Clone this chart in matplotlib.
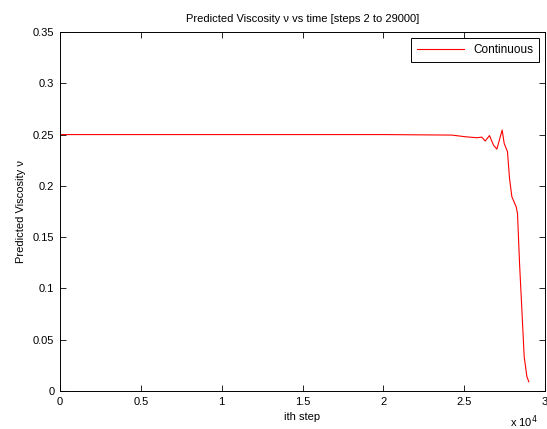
import numpy as np
import matplotlib.pyplot as plt
from matplotlib.ticker import FuncFormatter, MultipleLocator

plt.rcParams['font.family'] = ['Liberation Sans', 'DejaVu Sans']
plt.rcParams['font.size'] = 8

# predicted viscosity along the run (step index, value)
steps = [2, 5000, 10000, 15000, 20000, 24240, 25060, 25786, 26095, 26300,
         26567, 26815, 27020, 27350, 27475, 27680, 27805, 27950, 28217,
         28300, 28425, 28570, 28713, 28880, 29000]
nu = [0.25, 0.25, 0.25, 0.25, 0.25, 0.2495, 0.2479, 0.2469, 0.2475, 0.2437,
      0.249, 0.2397, 0.2358, 0.2544, 0.2414, 0.2332, 0.2073, 0.1894, 0.1796,
      0.173, 0.1245, 0.079, 0.0334, 0.014, 0.009]

fig = plt.figure(figsize=(5.47, 4.29), dpi=100)
ax = fig.add_axes([60/547, 38/429, 485/547, 359/429])

ax.plot(steps, nu, color='red', linewidth=0.8, label='Continuous')

ax.set_xlim(0, 30000)
ax.set_ylim(0, 0.35)
ax.xaxis.set_major_locator(MultipleLocator(5000))
ax.yaxis.set_major_locator(MultipleLocator(0.05))
ax.xaxis.set_major_formatter(FuncFormatter(lambda v, p: f'{v/1e4:g}'))
ax.yaxis.set_major_formatter(FuncFormatter(lambda v, p: f'{v:g}'))
ax.tick_params(direction='in', top=True, right=True, length=4, width=0.6,
               labelsize=8, pad=4)
for s in ax.spines.values():
    s.set_linewidth(0.7)

ax.set_title('Predicted Viscosity \u03bd vs time [steps 2 to 29000]', fontsize=8, pad=7)
ax.set_xlabel('ith step', fontsize=8, labelpad=4)
ax.set_ylabel('Predicted Viscosity \u03bd', fontsize=8, labelpad=5)
ax.text(0.985, -0.062, 'x 10$^4$', transform=ax.transAxes, ha='right', va='top', fontsize=8)

leg = ax.legend(loc='upper right', fancybox=False, framealpha=1, edgecolor='black',
                handlelength=4, borderaxespad=0.5, fontsize=8.5, borderpad=0.5)
leg.get_frame().set_linewidth(0.7)

fig.savefig('out.png', dpi=100)
